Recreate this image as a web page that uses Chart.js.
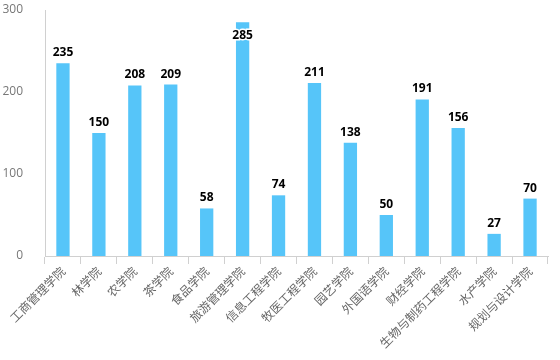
<!DOCTYPE html>
<html>
<head>
<meta charset="utf-8">
<script src="https://cdn.jsdelivr.net/npm/chart.js@4/dist/chart.umd.min.js"></script>
<style>
  html, body { margin: 0; padding: 0; background: #fff; }
  #wrap { width: 560px; height: 360px; }
</style>
</head>
<body>
<div id="wrap"><canvas id="chart"></canvas></div>
<script>
const colleges = ['工商管理学院', '林学院', '农学院', '茶学院', '食品学院', '旅游管理学院', '信息工程学院',
  '牧医工程学院', '园艺学院', '外国语学院', '财经学院', '生物与制药工程学院', '水产学院', '规划与设计学院'];
const counts = [235, 150, 208, 209, 58, 285, 74, 211, 138, 50, 191, 156, 27, 70];
const yTicks = [0, 100, 200, 300];

// value labels above each bar (white outline when it has to sit inside the bar)
const valueLabels = {
  id: 'valueLabels',
  afterDatasetsDraw(chart) {
    const ctx = chart.ctx;
    const meta = chart.getDatasetMeta(0);
    ctx.save();
    ctx.font = 'bold 12px "Open Sans", "DejaVu Sans", sans-serif';
    ctx.textAlign = 'center';
    ctx.textBaseline = 'alphabetic';
    meta.data.forEach((bar, i) => {
      const txt = String(counts[i]);
      let y = bar.y - 7;
      if (y - 11 < chart.chartArea.top) {
        y = bar.y + 17;
        ctx.lineWidth = 3;
        ctx.strokeStyle = '#fff';
        ctx.strokeText(txt, bar.x, y);
      }
      ctx.fillStyle = '#000';
      ctx.fillText(txt, bar.x, y);
    });
    ctx.restore();
  }
};

new Chart(document.getElementById('chart'), {
  type: 'bar',
  data: {
    labels: colleges,
    datasets: [{
      data: counts,
      backgroundColor: '#56C5F9',
      categoryPercentage: 1,
      barPercentage: 0.37
    }]
  },
  options: {
    responsive: true,
    maintainAspectRatio: false,
    animation: false,
    layout: { padding: { top: 10, right: 12, left: 0, bottom: 0 } },
    plugins: {
      legend: { display: false },
      tooltip: { enabled: false }
    },
    scales: {
      x: {
        grid: { drawOnChartArea: false, tickLength: 8, color: '#d0d0d0', offset: true },
        border: { color: '#d0d0d0' },
        ticks: {
          maxRotation: 45, minRotation: 45, autoSkip: false,
          color: '#666', padding: 0,
          font: { family: '"Noto Sans CJK SC", sans-serif', size: 12 }
        },
        afterFit(scale) {
          scale.height = 104;
          scale.paddingLeft = 0;
          scale.paddingRight = 0;
        }
      },
      y: {
        min: 0, max: 300,
        afterBuildTicks(scale) { scale.ticks = yTicks.map(v => ({ value: v })); },
        grid: { display: false },
        border: { color: '#d0d0d0' },
        ticks: {
          color: '#777', padding: 14,
          font: { family: '"Open Sans", sans-serif', size: 12 }
        },
        afterFit(scale) {
          scale.width = 45;
          scale.paddingTop = 0;
          scale.paddingBottom = 0;
        }
      }
    }
  },
  plugins: [valueLabels]
});
</script>
</body>
</html>
